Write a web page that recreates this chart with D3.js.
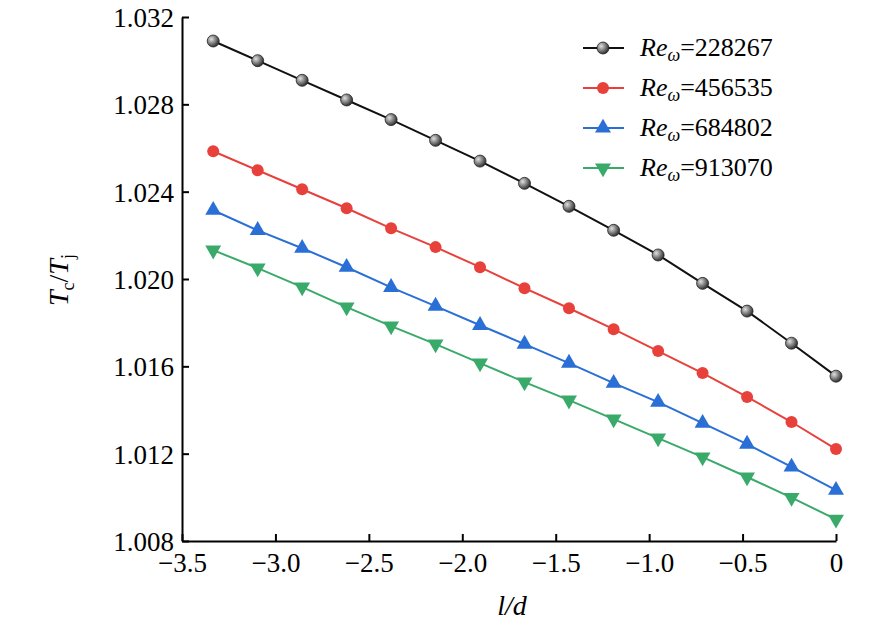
<!DOCTYPE html>
<html><head><meta charset="utf-8">
<script src="https://cdn.jsdelivr.net/npm/d3@7"></script>
<style>body{margin:0;background:#fff} svg text{font-family:"Liberation Serif","Times New Roman","DejaVu Serif",serif !important}</style>
</head><body><div id="chart"></div>
<script>
// datos
const xs = [-3.333, -3.095, -2.857, -2.619, -2.381, -2.143, -1.905, -1.667, -1.429, -1.190, -0.952, -0.714, -0.476, -0.238, 0];
const re1 = [1.0309, 1.0300, 1.0291, 1.0282, 1.0273, 1.02635, 1.0254, 1.02438, 1.02333, 1.02223, 1.0211, 1.0198, 1.01853, 1.01706, 1.01555];
const re2 = [1.02585, 1.02498, 1.02411, 1.02324, 1.02232, 1.02146, 1.02054, 1.01958, 1.01866, 1.0177, 1.0167, 1.01569, 1.0146, 1.01345, 1.01221];
const re3 = [1.02315, 1.02223, 1.02141, 1.02054, 1.01962, 1.01876, 1.01788, 1.01702, 1.01615, 1.01523, 1.01436, 1.0134, 1.01244, 1.01139, 1.01033];
const re4 = [1.02132, 1.0205, 1.01963, 1.01871, 1.01784, 1.01702, 1.01615, 1.01528, 1.01445, 1.01358, 1.01271, 1.01184, 1.01093, 1.00999, 1.00899];
const seriesNames = ["228267", "456535", "684802", "913070"];
const xTicks = [-3.5, -3.0, -2.5, -2.0, -1.5, -1.0, -0.5, 0];
const yTicks = [1.008, 1.012, 1.016, 1.020, 1.024, 1.028, 1.032];

const series = [
  {name: seriesNames[0], vals: re1, color: "#111", marker: "ball"},
  {name: seriesNames[1], vals: re2, color: "#e8413c", marker: "circle"},
  {name: seriesNames[2], vals: re3, color: "#2a6fd6", marker: "up"},
  {name: seriesNames[3], vals: re4, color: "#3aaa6a", marker: "down"}
];

const W = 886, H = 634;
const margin = {top: 17, right: 50, bottom: 93, left: 182};
const width = W - margin.left - margin.right;
const height = H - margin.top - margin.bottom;

const svg = d3.select("#chart").append("svg").attr("width", W).attr("height", H);

const defs = svg.append("defs");
const grad = defs.append("radialGradient").attr("id", "ball").attr("cx", "35%").attr("cy", "35%").attr("r", "65%");
grad.append("stop").attr("offset", "0%").attr("stop-color", "#e0e0e0");
grad.append("stop").attr("offset", "60%").attr("stop-color", "#777");
grad.append("stop").attr("offset", "100%").attr("stop-color", "#333");

const g = svg.append("g").attr("transform", `translate(${margin.left},${margin.top})`);

const x = d3.scaleLinear().domain([-3.5, 0]).range([0, width]);
const y = d3.scaleLinear().domain([1.008, 1.032]).range([height, 0]);

// Ejes
const fmtX = d => d === 0 ? "0" : d3.format(".1f")(d).replace("-", "\u2212");
const ax = g.append("g").attr("transform", `translate(0,${height})`)
  .call(d3.axisBottom(x).tickValues(xTicks).tickFormat(fmtX).tickSizeInner(-7).tickSizeOuter(0).tickPadding(12));
const ay = g.append("g")
  .call(d3.axisLeft(y).tickValues(yTicks).tickFormat(d3.format(".3f")).tickSizeInner(-7).tickSizeOuter(0).tickPadding(8));
[ax, ay].forEach(a => {
  a.attr("font-family", null);
  a.selectAll("path,line").attr("stroke", "#000").attr("stroke-width", 2);
  a.selectAll("text").attr("font-size", 27).attr("fill", "#000");
});
ay.selectAll(".tick text").attr("dy", "0.35em");

// Etiquetas
svg.append("text").attr("x", 512).attr("y", 615).attr("text-anchor", "middle")
  .attr("font-size", 28).attr("font-style", "italic").text("l/d");
const yl = svg.append("text").attr("transform", "translate(68,280) rotate(-90)").attr("text-anchor", "middle").attr("font-size", 28);
yl.append("tspan").attr("font-style", "italic").text("T");
yl.append("tspan").attr("font-size", 18).attr("dy", 6).text("c");
yl.append("tspan").attr("dy", -6).text("/");
yl.append("tspan").attr("font-style", "italic").text("T");
yl.append("tspan").attr("font-size", 18).attr("dy", 6).text("j");

function drawMarker(sel, s, cx, cy) {
  if (s.marker === "ball") {
    sel.append("circle").attr("cx", cx).attr("cy", cy).attr("r", 6).attr("fill", "url(#ball)").attr("stroke", "#222").attr("stroke-width", 0.8);
  } else if (s.marker === "circle") {
    sel.append("circle").attr("cx", cx).attr("cy", cy).attr("r", 6).attr("fill", s.color);
  } else {
    const sym = d3.symbol().type(d3.symbolTriangle).size(110)();
    sel.append("path").attr("d", sym).attr("fill", s.color)
      .attr("transform", `translate(${cx},${cy}) ${s.marker === "down" ? "rotate(180)" : ""}`);
  }
}

const line = d3.line().x(d => x(d[0])).y(d => y(d[1]));
series.forEach(s => {
  const pts = xs.map((v, i) => [v, s.vals[i]]);
  g.append("path").attr("d", line(pts)).attr("fill", "none").attr("stroke", s.color).attr("stroke-width", 2);
  const mg = g.append("g");
  pts.forEach(p => drawMarker(mg, s, x(p[0]), y(p[1])));
});

// Leyenda
const lg = svg.append("g");
series.forEach((s, i) => {
  const ly = 48 + i * 40;
  lg.append("line").attr("x1", 583).attr("x2", 624).attr("y1", ly).attr("y2", ly).attr("stroke", s.color).attr("stroke-width", 2);
  drawMarker(lg, s, 603, ly);
  const t = lg.append("text").attr("x", 640).attr("y", ly + 8).attr("font-size", 26);
  t.append("tspan").attr("font-style", "italic").text("Re");
  t.append("tspan").attr("font-style", "italic").attr("font-size", 18).attr("dy", 5).text("\u03c9");
  t.append("tspan").attr("dy", -5).text("=" + s.name);
});
</script></body></html>
